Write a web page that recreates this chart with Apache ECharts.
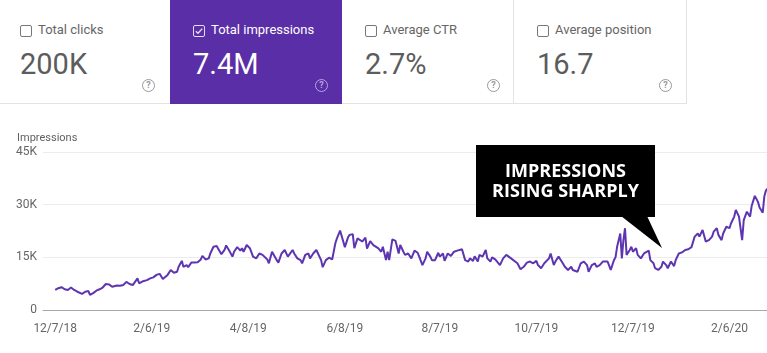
<!DOCTYPE html>
<html>
<head>
<meta charset="utf-8">
<script src="https://cdn.jsdelivr.net/npm/echarts@6/dist/echarts.min.js"></script>
<style>
  html, body { margin: 0; padding: 0; background: #fff; font-family: Roboto, sans-serif; }
  #chart { position: absolute; left: 0; top: 0; width: 767px; height: 353px; }
  .card { position: absolute; top: 0; height: 103px; background: #fff; border-bottom: 1px solid #e3e3e3; }
  .card.bordered { border-right: 1px solid #e3e3e3; }
  .card.active { background: #5a2ea6; border-bottom-color: #5a2ea6; }
  .box { position: absolute; left: 23px; top: 25px; width: 10px; height: 10px; border: 1.3px solid #777; border-radius: 2px; }
  .active .box { border-color: #e6ddf5; }
  .box svg { position: absolute; left: 0; top: 0; }
  .label { position: absolute; left: 41px; top: 22px; font-size: 13px; line-height: 16px; color: #666; white-space: nowrap; }
  .value { position: absolute; left: 23px; top: 47px; font-size: 29px; line-height: 34px; color: #5c5c5c; white-space: nowrap; }
  .active .label, .active .value { color: #fff; }
  .help { position: absolute; left: 145px; top: 79px; width: 11px; height: 11px; border: 1.2px solid #9a9a9a; border-radius: 50%;
          font-size: 9px; line-height: 11px; text-align: center; color: #9a9a9a; font-weight: bold; }
  .active .help { border-color: #b7a3e0; color: #b7a3e0; }
</style>
</head>
<body>
<div id="chart"></div>
<div id="cards"></div>
<script>
// summary cards
var cardLabels = ['Total clicks', 'Total impressions', 'Average CTR', 'Average position'];
var cardValues = ['200K', '7.4M', '2.7%', '16.7'];
var cardActive = 1;

// daily impressions
var dates = [
  '2018-12-07','2018-12-09','2018-12-11','2018-12-13','2018-12-15','2018-12-17','2018-12-19','2018-12-21','2018-12-24','2018-12-26',
  '2018-12-28','2018-12-29','2018-12-31','2019-01-02','2019-01-04','2019-01-06','2019-01-08','2019-01-10','2019-01-12','2019-01-15',
  '2019-01-17','2019-01-19','2019-01-21','2019-01-23','2019-01-25','2019-01-28','2019-01-29','2019-01-31','2019-02-03','2019-02-05',
  '2019-02-07','2019-02-09','2019-02-11','2019-02-13','2019-02-16','2019-02-18','2019-02-20','2019-02-22','2019-02-23','2019-02-25',
  '2019-02-26','2019-02-28','2019-03-01','2019-03-03','2019-03-05','2019-03-07','2019-03-09','2019-03-10','2019-03-12','2019-03-14',
  '2019-03-15','2019-03-17','2019-03-19','2019-03-20','2019-03-22','2019-03-24','2019-03-25','2019-03-27','2019-03-29','2019-03-30',
  '2019-04-01','2019-04-03','2019-04-04','2019-04-05','2019-04-07','2019-04-09','2019-04-11','2019-04-13','2019-04-15','2019-04-17',
  '2019-04-18','2019-04-20','2019-04-21','2019-04-23','2019-04-24','2019-04-26','2019-04-27','2019-04-29','2019-05-01','2019-05-03',
  '2019-05-04','2019-05-06','2019-05-07','2019-05-09','2019-05-11','2019-05-12','2019-05-14','2019-05-16','2019-05-17','2019-05-19',
  '2019-05-21','2019-05-22','2019-05-24','2019-05-25','2019-05-27','2019-05-29','2019-05-31','2019-06-02','2019-06-03','2019-06-05',
  '2019-06-07','2019-06-08','2019-06-10','2019-06-11','2019-06-13','2019-06-14','2019-06-16','2019-06-17','2019-06-19','2019-06-21',
  '2019-06-22','2019-06-24','2019-06-26','2019-06-27','2019-06-29','2019-07-01','2019-07-02','2019-07-04','2019-07-05','2019-07-06',
  '2019-07-08','2019-07-10','2019-07-12','2019-07-13','2019-07-15','2019-07-16','2019-07-18','2019-07-20','2019-07-22','2019-07-24',
  '2019-07-25','2019-07-27','2019-07-29','2019-07-30','2019-08-01','2019-08-02','2019-08-04','2019-08-06','2019-08-07','2019-08-09',
  '2019-08-10','2019-08-12','2019-08-14','2019-08-16','2019-08-18','2019-08-21','2019-08-23','2019-08-25','2019-08-26','2019-08-28',
  '2019-08-29','2019-08-31','2019-09-01','2019-09-03','2019-09-05','2019-09-06','2019-09-08','2019-09-09','2019-09-11','2019-09-12',
  '2019-09-14','2019-09-16','2019-09-18','2019-09-19','2019-09-21','2019-09-22','2019-09-25','2019-09-27','2019-09-29','2019-10-01',
  '2019-10-03','2019-10-05','2019-10-07','2019-10-08','2019-10-10','2019-10-12','2019-10-15','2019-10-16','2019-10-18','2019-10-19',
  '2019-10-21','2019-10-23','2019-10-25','2019-10-27','2019-10-29','2019-10-30','2019-11-02','2019-11-04','2019-11-06','2019-11-08',
  '2019-11-09','2019-11-11','2019-11-13','2019-11-14','2019-11-16','2019-11-18','2019-11-19','2019-11-21','2019-11-23','2019-11-25',
  '2019-11-26','2019-11-27','2019-11-29','2019-11-30','2019-12-01','2019-12-02','2019-12-03','2019-12-05','2019-12-06','2019-12-07',
  '2019-12-09','2019-12-10','2019-12-12','2019-12-14','2019-12-15','2019-12-17','2019-12-18','2019-12-20','2019-12-21','2019-12-23',
  '2019-12-25','2019-12-26','2019-12-28','2019-12-29','2019-12-31','2020-01-02','2020-01-03','2020-01-05','2020-01-07','2020-01-09',
  '2020-01-11','2020-01-13','2020-01-15','2020-01-17','2020-01-18','2020-01-20','2020-01-22','2020-01-24','2020-01-26','2020-01-27',
  '2020-01-29','2020-01-30','2020-02-01','2020-02-02','2020-02-04','2020-02-06','2020-02-07','2020-02-09','2020-02-10','2020-02-12',
  '2020-02-14','2020-02-15','2020-02-17','2020-02-19','2020-02-20','2020-02-22','2020-02-24','2020-02-25','2020-02-27','2020-02-28',
  '2020-02-29','2020-03-01'
];
var impressions = [
  5700, 6200, 6500, 5900, 5700, 6400, 5700, 5200, 4600, 5200,
  5400, 4300, 4800, 5500, 5900, 6400, 7400, 7300, 6600, 7000,
  6900, 7100, 8000, 7400, 7100, 9000, 7600, 8100, 8500, 9000,
  9300, 10000, 10300, 8800, 10000, 11400, 10600, 10900, 12300, 14000,
  12300, 12800, 12200, 13500, 13500, 13600, 14400, 15400, 14400, 14700,
  16100, 18000, 18200, 17900, 15900, 17100, 18400, 16900, 15200, 16600,
  17900, 16900, 17600, 16600, 18500, 17600, 15200, 14700, 16100, 15700,
  15900, 14400, 13300, 16600, 16900, 14200, 13500, 16100, 17100, 15200,
  14700, 17100, 16100, 14700, 14200, 13300, 15700, 16100, 14700, 16100,
  17100, 16600, 14200, 12200, 14200, 14900, 14400, 19000, 20400, 22600,
  19500, 17900, 20700, 21400, 21600, 17600, 20400, 20900, 19500, 20600,
  17500, 19600, 18500, 19000, 17600, 16600, 18000, 14200, 16600, 14200,
  20100, 19700, 16100, 18500, 16600, 15700, 16100, 14700, 16900, 16300,
  15200, 12800, 14700, 16600, 15200, 14200, 14200, 16300, 15200, 16100,
  14000, 16100, 15400, 16600, 16900, 17300, 14200, 13800, 14700, 14000,
  15300, 13800, 15700, 15200, 17100, 14700, 13800, 15000, 14400, 14700,
  12800, 14700, 15700, 15400, 14700, 14200, 13300, 11600, 12300, 13500,
  13800, 13300, 14000, 12800, 11900, 13300, 14700, 16100, 12800, 13800,
  15200, 13800, 12300, 11400, 12300, 11400, 10900, 13300, 13800, 12800,
  10900, 12800, 13300, 12300, 12800, 13800, 13300, 13800, 11400, 14200,
  15000, 18000, 21800, 14700, 19900, 23300, 15700, 17100, 18000, 16600,
  17600, 15700, 14700, 16100, 15700, 16900, 14200, 13300, 11900, 11400,
  12300, 13800, 12800, 11900, 13800, 12500, 14200, 16100, 16400, 17100,
  17300, 17900, 20900, 21800, 20900, 22800, 19500, 19900, 20900, 22300,
  23300, 21400, 19900, 21800, 23700, 23300, 24700, 26600, 28500, 26600,
  19900, 25600, 28000, 26600, 29600, 32500, 30800, 29200, 27700, 32300,
  34000, 34600
];

// axis ticks
var xTickDates = ['2018-12-07', '2019-02-06', '2019-04-08', '2019-06-08', '2019-08-07', '2019-10-07', '2019-12-07', '2020-02-06'];
var xTickLabels = ['12/7/18', '2/6/19', '4/8/19', '6/8/19', '8/7/19', '10/7/19', '12/7/19', '2/6/20'];
var yTickValues = [0, 15000, 30000, 45000];
var yTickLabels = ['0', '15K', '30K', '45K'];

// cards
var cardsEl = document.getElementById('cards');
var cardLefts = [-3, 170, 342, 514];
var cardWidths = [173, 172, 171, 172];
cardLabels.forEach(function(label, i) {
  var card = document.createElement('div');
  card.className = 'card' + (i === cardActive ? ' active' : '') + (i >= 2 ? ' bordered' : '');
  card.style.left = cardLefts[i] + 'px';
  card.style.width = cardWidths[i] + 'px';
  var check = i === cardActive
    ? '<svg width="10" height="10" viewBox="0 0 10 10"><path d="M1.8 5.2 L4 7.3 L8.3 2.6" fill="none" stroke="#e6ddf5" stroke-width="1.4"/></svg>'
    : '';
  card.innerHTML = '<div class="box">' + check + '</div>' +
    '<div class="label">' + label + '</div>' +
    '<div class="value">' + cardValues[i] + '</div>' +
    '<div class="help">?</div>';
  cardsEl.appendChild(card);
});

// chart: x is days since the first date
var DAY = 86400000;
var start = Date.parse(dates[0]);
function dayOf(d) { return Math.round((Date.parse(d) - start) / DAY); }
var seriesData = dates.map(function(d, i) { return [dayOf(d), impressions[i]]; });
var xTickDays = xTickDates.map(dayOf);

var chart = echarts.init(document.getElementById('chart'));
var option = {
  animation: false,
  title: {
    text: 'Impressions',
    left: 12,
    top: 128,
    textStyle: { fontFamily: 'Roboto', fontSize: 11, fontWeight: 'normal', color: '#616161' }
  },
  grid: { left: 43, right: 0, top: 152, bottom: 43 },
  xAxis: {
    type: 'value',
    min: -7.7,
    max: 449.7,
    axisLine: { show: true, onZero: false, lineStyle: { color: '#a8a8a8', width: 1 } },
    axisTick: { show: false },
    splitLine: { show: false },
    axisLabel: {
      customValues: xTickDays,
      formatter: function(v) { var i = xTickDays.indexOf(v); return i >= 0 ? xTickLabels[i] : ''; },
      fontFamily: 'Roboto',
      fontSize: 12,
      color: '#666',
      margin: 13
    }
  },
  yAxis: {
    type: 'value',
    min: 0,
    max: 45000,
    interval: 15000,
    axisLine: { show: false },
    axisTick: { show: false },
    splitLine: { lineStyle: { color: '#ececec' } },
    axisLabel: {
      formatter: function(v) { return yTickLabels[yTickValues.indexOf(v)]; },
      fontFamily: 'Roboto',
      fontSize: 12,
      color: '#666',
      margin: 6
    }
  },
  series: [{
    name: 'Impressions',
    type: 'line',
    data: seriesData,
    showSymbol: false,
    lineStyle: { color: '#5e35b1', width: 2 },
    itemStyle: { color: '#5e35b1' }
  }],
  graphic: [
    { type: 'rect', z: 100, shape: { x: 476, y: 145, width: 179, height: 72 }, style: { fill: '#000' } },
    { type: 'polygon', z: 100, shape: { points: [[621, 216], [647, 216], [662, 248]] }, style: { fill: '#000' } },
    { type: 'text', z: 101, x: 565.5, y: 172,
      style: { text: 'IMPRESSIONS', fill: '#fff', font: 'bold 18px "Open Sans"', align: 'center', verticalAlign: 'middle' } },
    { type: 'text', z: 101, x: 565.5, y: 192,
      style: { text: 'RISING SHARPLY', fill: '#fff', font: 'bold 18px "Open Sans"', align: 'center', verticalAlign: 'middle' } }
  ]
};
chart.setOption(option);
</script>
</body>
</html>
